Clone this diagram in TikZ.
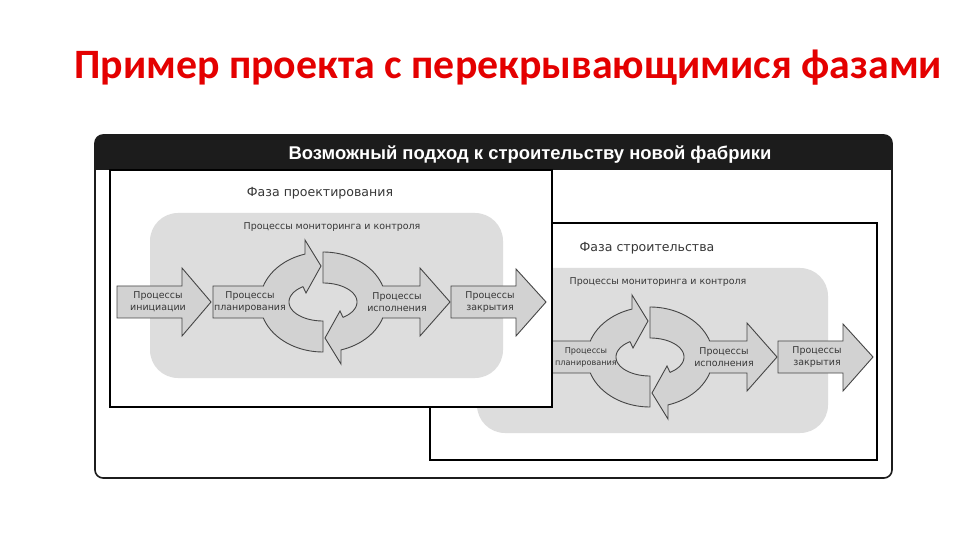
\documentclass[tikz,border=0pt]{standalone}
\usepackage{fontspec}
\newfontfamily\titlefont{Carlito}
\newfontfamily\hdrfont{Liberation Sans}
\newfontfamily\lblfont{DejaVu Sans}
\definecolor{titlered}{RGB}{228,0,0}
\definecolor{bggray}{RGB}{221,221,221}
\definecolor{arrgray}{RGB}{210,210,210}
\definecolor{edgegray}{RGB}{70,70,70}
\definecolor{txtgray}{RGB}{55,55,55}
\definecolor{hdrblack}{RGB}{28,28,28}
\tikzset{
  arrowbox/.style={fill=arrgray, draw=edgegray, line width=0.9bp, line join=miter},
  phasebox/.style={draw=black, line width=1.6bp, fill=white},
  bgbox/.style={fill=bggray, rounded corners=28bp},
  arrlabel/.style={font=\lblfont\fontsize{9.5}{12}\selectfont, text=txtgray, align=center, inner sep=0pt},
  phaselabel/.style={font=\lblfont\fontsize{12.6}{15}\selectfont, text=txtgray, anchor=base, inner sep=0pt},
  mclabel/.style={font=\lblfont\fontsize{9.5}{12}\selectfont, text=txtgray, anchor=base, inner sep=0pt},
}
% planning arrow merged with left half ring (design-phase coordinates)
\newcommand\planring{%
  \path[arrowbox] (213,286) -- (263.3,286)
    -- plot[domain=198.66:253.4,samples=25] ({323+63*cos(\x)},{302+50*sin(\x)})
    -- (305,240) -- (321,266) -- (306,293) -- (303,286.6)
    -- plot[domain=234:90,samples=40] ({323+34*cos(\x)},{302+19*sin(\x)})
    -- (323,352)
    -- plot[domain=90:161.34,samples=25] ({323+63*cos(\x)},{302+50*sin(\x)})
    -- (213,318) -- cycle;}
% execution arrow merged with right half ring
\newcommand\execring{%
  \path[arrowbox] (323,252)
    -- plot[domain=270:341.34,samples=25] ({323+63*cos(\x)},{302+50*sin(\x)})
    -- (420,286) -- (420,268) -- (450,302) -- (420,336) -- (420,318) -- (382.7,318)
    -- plot[domain=18.66:73.4,samples=25] ({323+63*cos(\x)},{302+50*sin(\x)})
    -- (341,364) -- (325,338) -- (340,311) -- (343,317.4)
    -- plot[domain=54:-90,samples=40] ({323+34*cos(\x)},{302+19*sin(\x)})
    -- cycle;}
\newcommand\closearrow{%
  \path[arrowbox] (451,286) -- (516,286) -- (516,269) -- (546,302) -- (516,336) -- (516,318) -- (451,318) -- cycle;}
\begin{document}
\begin{tikzpicture}[x=1bp,y=-1bp]
\useasboundingbox (0,0) rectangle (960,540);
\fill[white] (0,0) rectangle (960,540);

% title
\node[anchor=base west, inner sep=0pt, font=\titlefont\bfseries\fontsize{42}{48}\selectfont, text=titlered] (title) at (74,79) {Пример проекта с перекрывающимися фазами};

% outer frame with header band
\begin{scope}
  \clip[rounded corners=8bp] (95,135) rectangle (892,478);
  \fill[white] (95,135) rectangle (892,478);
  \fill[hdrblack] (95,135) rectangle (892,170);
\end{scope}
\draw[rounded corners=8bp, line width=1.6bp, draw=hdrblack] (95,135) rectangle (892,478);

% construction phase
\draw[phasebox] (430,223) rectangle (877,460);
\fill[bgbox] (477,268) rectangle (828,433);
\begin{scope}[shift={(327,55)}]
  \planring
  \execring
  \closearrow
\end{scope}
\node[phaselabel] (c-phase) at (647,252) {Фаза строительства};
\node[mclabel] (c-mc) at (658,285) {Процессы мониторинга и контроля};
\node[arrlabel] (c-exec) at (724,357) {Процессы\\исполнения};
\node[arrlabel] (c-close) at (817,357) {Процессы\\закрытия};

% design phase
\draw[phasebox] (110,170) rectangle (552,407);
\fill[bgbox] (150,213) rectangle (503,378);
\path[arrowbox] (117,286) -- (182,286) -- (182,268) -- (211,302) -- (182,336) -- (182,318) -- (117,318) -- cycle;
\planring
\execring
\closearrow
\node[phaselabel] (d-phase) at (320,197) {Фаза проектирования};
\node[mclabel] (d-mc) at (332,230) {Процессы мониторинга и контроля};
\node[arrlabel] (d-init) at (158,302) {Процессы\\инициации};
\node[arrlabel] (d-plan) at (250,302) {Процессы\\планирования};
\node[arrlabel] (d-exec) at (397,302) {Процессы\\исполнения};
\node[arrlabel] (d-close) at (490,302) {Процессы\\закрытия};

% construction planning label (right of the design box)
\node[arrlabel, font=\lblfont\fontsize{8.2}{12}\selectfont] (c-plan) at (586,357) {Процессы\\планирования};

% header text
\node[anchor=base, inner sep=0pt, font=\hdrfont\bfseries\fontsize{18.5}{21}\selectfont, text=white] (hdr) at (530,160) {Возможный подход к строительству новой фабрики};
\end{tikzpicture}
\end{document}
